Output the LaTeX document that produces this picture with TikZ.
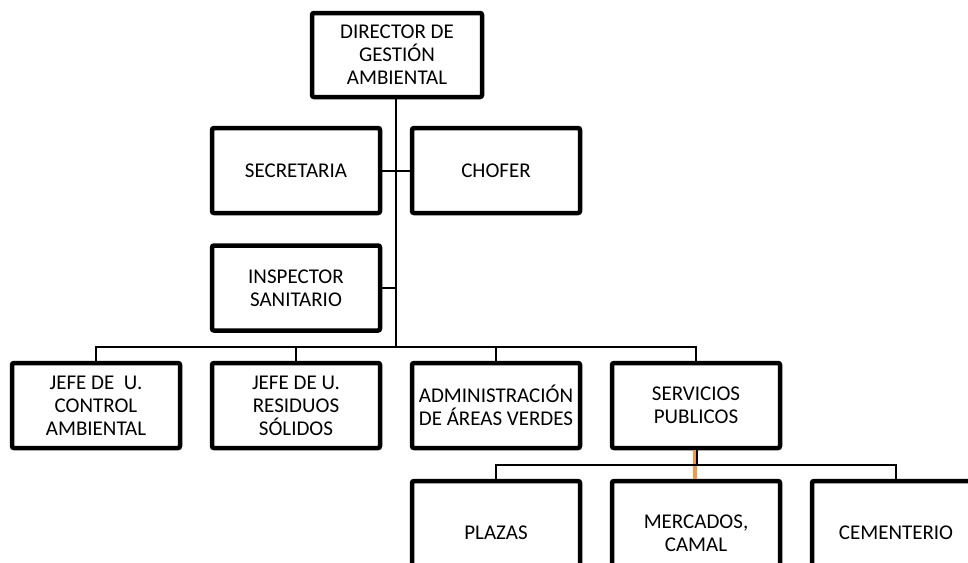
\documentclass[tikz,border=0pt]{standalone}
\usepackage{fontspec}
\setmainfont{Carlito}
\definecolor{lnorange}{HTML}{F79646}
\begin{document}
\begin{tikzpicture}[x=1pt,y=-1pt,
  box/.style={draw=black,line width=4.5pt,rounded corners=2pt,fill=white,
    minimum width=168pt,minimum height=85pt,inner sep=0pt,align=center,
    font=\fontsize{21}{23}\selectfont},
  tallbox/.style={box,minimum height=104pt},
  link/.style={draw=black,line width=2pt},
  orangelink/.style={draw=lnorange,line width=4.5pt}]
\useasboundingbox (0,0) rectangle (968,562);
\coordinate (b) at (396,347);
\coordinate (c) at (696,465);
\node[box,minimum width=170pt,minimum height=84pt] (dir) at (397,55) {DIRECTOR DE\\GESTIÓN\\AMBIENTAL};
\node[box] (sec) at (296,170.5) {SECRETARIA};
\node[box] (cho) at (496,170.5) {CHOFER};
\node[box] (ins) at (296,288) {INSPECTOR\\SANITARIO};
\node[box] (j1) at (96,405.5) {JEFE DE~~U.\\CONTROL\\AMBIENTAL};
\node[box] (j2) at (296,405.5) {JEFE DE U.\\RESIDUOS\\SÓLIDOS};
\node[box] (adm) at (496,405.5) {ADMINISTRACIÓN\\DE ÁREAS VERDES};
\node[box] (ser) at (696,405.5) {SERVICIOS\\PUBLICOS};
\node[tallbox] (pla) at (496,533) {PLAZAS};
\node[tallbox] (mer) at (696,533) {MERCADOS,\\CAMAL};
\node[tallbox] (cem) at (896,533) {CEMENTERIO};
\draw[link] (dir.south -| b) -- (b);
\draw[link] (sec.east) -- (cho.west);
\draw[link] (ins.east) -- (ins.east -| b);
\draw[link] (j1.north) |- (b) -| (ser.north);
\draw[link] (j2.north) -- (j2.north |- b);
\draw[link] (adm.north) -- (adm.north |- b);
\draw[orangelink] ([xshift=-1pt]ser.south) -- ([xshift=-1pt]mer.north);
\draw[link] ([xshift=1pt]ser.south) -- ([xshift=1pt]c);
\draw[link] (pla.north) |- (c) -| (cem.north);
\end{tikzpicture}
\end{document}
